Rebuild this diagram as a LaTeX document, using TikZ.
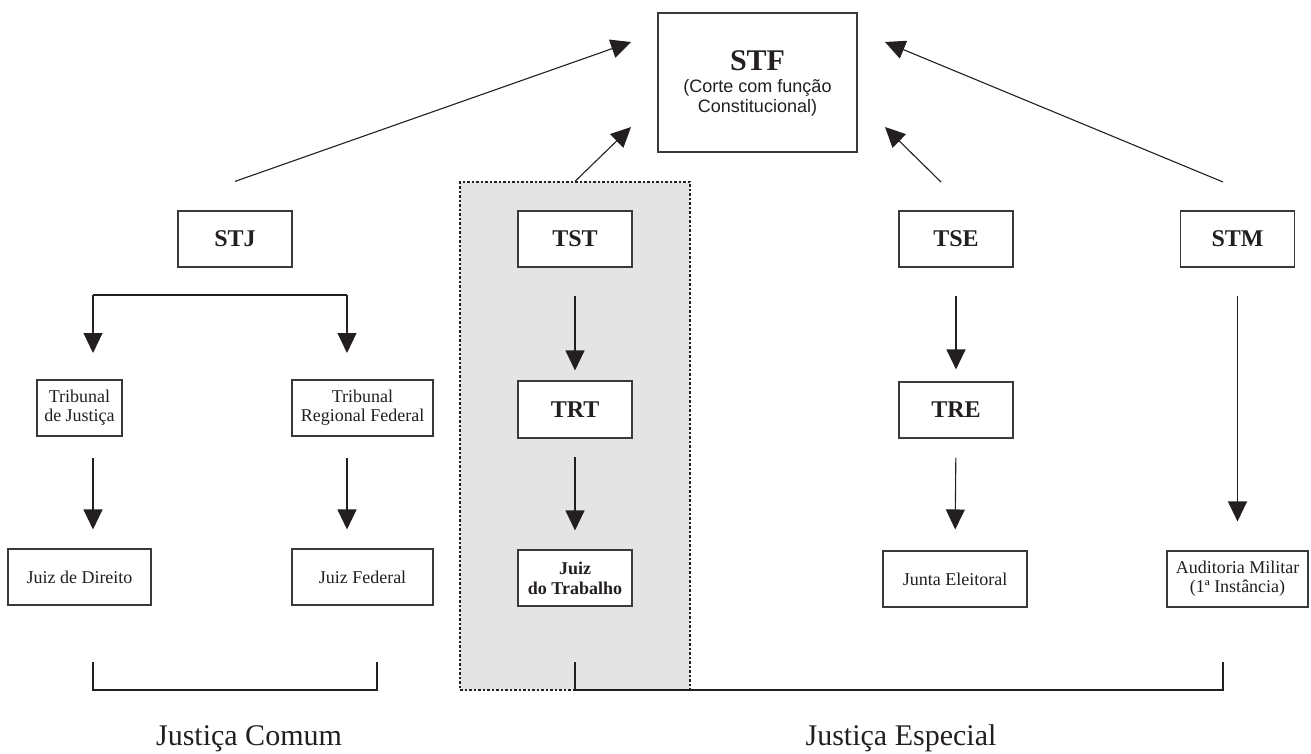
\documentclass[tikz,border=0pt]{standalone}
\usepackage{fontspec}
\setmainfont{Liberation Serif}
\newfontfamily\arialf{Liberation Sans}
\usetikzlibrary{arrows.meta}
\definecolor{ink}{HTML}{231F20}
\definecolor{boxline}{HTML}{3A3A3A}
\definecolor{shade}{HTML}{E4E4E4}
\begin{document}
\begin{tikzpicture}[x=1pt,y=-1pt,
  box/.style={draw=boxline, line width=1.1pt, fill=white, inner sep=0pt, text=ink},
  bigbox/.style={box, minimum width=114pt, minimum height=56pt, font=\fontsize{24}{26}\selectfont\bfseries},
  smallbox/.style={box, minimum height=56pt, align=center, font=\fontsize{18}{19}\selectfont},
  arr/.style={draw=ink, line width=1.1pt, -{Triangle[length=20pt,width=19pt]}},
  link/.style={draw=ink, line width=1.1pt},
  lbl/.style={anchor=base, text=ink, inner sep=0pt}]
\useasboundingbox (0,0) rectangle (1311,753);
% shaded group
\node[fill=shade, draw=ink, dash pattern=on 2.5pt off 2pt, line width=1.2pt, minimum width=230pt, minimum height=508pt, inner sep=0pt] (gray) at (575,436) {};
% STF
\node[box, minimum width=199pt, minimum height=139pt] (STF) at (757.5,82.5) {};
\node[lbl, font=\fontsize{30}{32}\selectfont\bfseries] (STFt) at (757.5,70) {STF};
\node[lbl, font=\arialf\fontsize{18}{20}\selectfont] (STFs1) at (757.5,92) {(Corte com função};
\node[lbl, font=\arialf\fontsize{18}{20}\selectfont] (STFs2) at (757.5,112) {Constitucional)};
% top row
\node[bigbox] (STJ) at (235,239) {STJ};
\node[bigbox] (TST) at (575,239) {TST};
\node[bigbox] (TSE) at (956,239) {TSE};
\node[bigbox] (STM) at (1237.5,239) {STM};
% middle row
\node[smallbox, minimum width=85pt] (TJ) at (79.5,408) {Tribunal\\de Justiça};
\node[smallbox, minimum width=141pt] (TRF) at (362.5,408) {Tribunal\\Regional Federal};
\node[bigbox, minimum height=57pt] (TRT) at (575,409.5) {TRT};
\node[bigbox] (TRE) at (956,410) {TRE};
% bottom row
\node[smallbox, minimum width=143pt] (JD) at (79.5,577) {Juiz de Direito};
\node[smallbox, minimum width=141pt] (JF) at (362.5,577) {Juiz Federal};
\node[smallbox, minimum width=114pt, font=\fontsize{18}{20}\selectfont\bfseries] (JT) at (575,578) {Juiz\\do Trabalho};
\node[smallbox, minimum width=144pt] (JE) at (955,579) {Junta Eleitoral};
\node[smallbox, minimum width=141pt] (AM) at (1237.5,579) {Auditoria Militar\\(1ª Instância)};
% arrows up to STF
\coordinate (p1) at (631,42);
\coordinate (p2) at (631,127);
\coordinate (p3) at (885,127);
\coordinate (p4) at (885,42);
\coordinate (q3) at (941,182);
\coordinate (q4) at (1223,182);
\draw[arr] (STJ.north |- gray.north) -- (p1);
\draw[arr] (gray.north) -- (p2);
\draw[arr] (q3) -- (p3);
\draw[arr] (q4) -- (p4);
% STJ branch
\coordinate (brL) at (93,295);
\coordinate (brR) at (347,295);
\draw[link] (brL) -- (brR);
\draw[arr] (brL) -- ++(0,58);
\draw[arr] (brR) -- ++(0,58);
\draw[arr, shorten <=21pt, shorten >=19pt] (brL |- TJ.south) -- (brL |- JD.north);
\draw[arr, shorten <=21pt, shorten >=19pt] (brR |- TRF.south) -- (brR |- JF.north);
% TST column
\draw[arr, shorten <=28pt, shorten >=10pt] (TST.south) -- (TRT.north);
\draw[arr, shorten <=18pt, shorten >=19pt] (TRT.south) -- (JT.north);
% TSE column
\draw[arr, shorten <=28pt, shorten >=12pt] (TSE.south) -- (TRE.north);
\draw[arr, shorten <=19pt, shorten >=21pt] (TRE.south) -- (JE.north);
% STM column
\draw[arr, shorten <=28pt, shorten >=29pt] (STM.south) -- (AM.north);
% brackets
\coordinate (c1) at (93,662);
\coordinate (c2) at (377,662);
\coordinate (e1) at (575,662);
\coordinate (e2) at (1223,662);
\draw[link] (c1) -- ++(0,28) -| (c2);
\draw[link] (e1) -- ++(0,28) -| (e2);
% labels
\node[lbl, font=\fontsize{30}{32}\selectfont] (jc) at (249,745) {Justiça Comum};
\node[lbl, font=\fontsize{30}{32}\selectfont] (je) at (901,745) {Justiça Especial};
\end{tikzpicture}
\end{document}
